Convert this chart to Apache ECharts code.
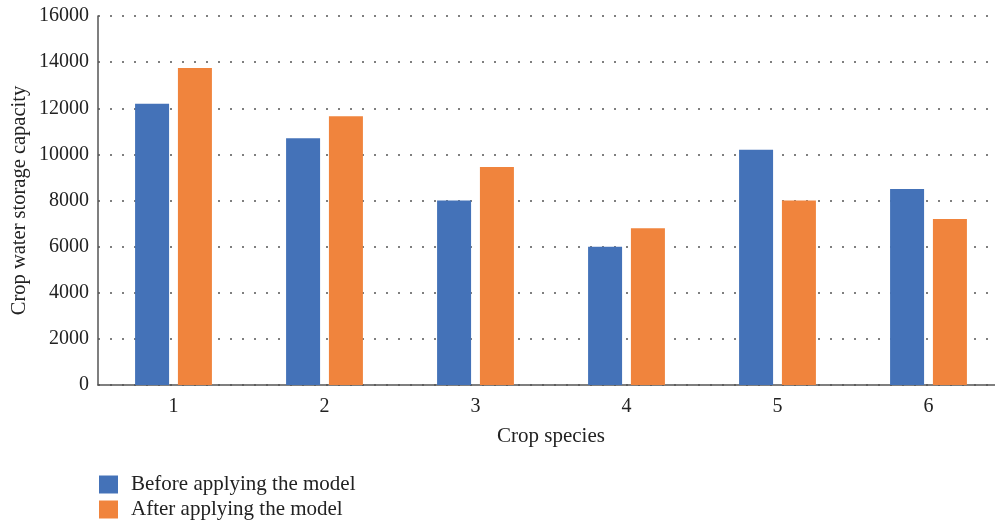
<!DOCTYPE html>
<html><head><meta charset="utf-8">
<script src="https://cdn.jsdelivr.net/npm/echarts@6/dist/echarts.min.js"></script>
<style>html,body{margin:0;padding:0;background:#fff}#c{width:995px;height:525px}</style>
</head><body><div id="c"></div>
<script>
const categories = ['1','2','3','4','5','6'];
const beforeValues = [12200, 10700, 8000, 6000, 10200, 8500];
const afterValues = [13750, 11650, 9450, 6800, 8000, 7200];
const seriesNames = ['Before applying the model', 'After applying the model'];
const yTicks = {min: 0, max: 16000, interval: 2000};

const font = 'Liberation Serif';
const chart = echarts.init(document.getElementById('c'));
chart.setOption({
  animation: false,
  textStyle: {fontFamily: font},
  grid: {left: 98, right: -9, top: 16, bottom: 140, outerBoundsMode: 'none', containLabel: false},
  legend: {
    orient: 'vertical', left: 99, top: 474, padding: 0, itemWidth: 19, itemHeight: 18, itemGap: 4,
    height: 60,
    icon: 'rect',
    textStyle: {fontFamily: font, fontSize: 21, color: '#222', padding: [0,0,0,8], lineHeight: 18},
    data: seriesNames
  },
  xAxis: {
    type: 'category', data: categories,
    name: 'Crop species', nameLocation: 'middle', nameGap: 41,
    nameTextStyle: {fontFamily: font, fontSize: 21, color: '#222'},
    axisLine: {lineStyle: {color: '#555', width: 1.5}},
    axisTick: {show: false},
    axisLabel: {fontFamily: font, fontSize: 20, color: '#222', margin: 12}
  },
  yAxis: {
    type: 'value', min: yTicks.min, max: yTicks.max, interval: yTicks.interval,
    name: 'Crop water storage capacity', nameLocation: 'middle', nameGap: 68, nameMoveOverlap: false,
    nameTextStyle: {fontFamily: font, fontSize: 20.5, color: '#222'},
    axisLine: {show: true, lineStyle: {color: '#555', width: 1.5}},
    axisTick: {show: false},
    axisLabel: {fontFamily: font, fontSize: 20, color: '#222', margin: 9, formatter: v => String(v)},
    splitLine: {lineStyle: {color: '#555', width: 1.5, type: [2, 10]}}
  },
  series: [
    {name: seriesNames[0], type: 'bar', data: beforeValues, barWidth: 34, barGap: '26%', itemStyle: {color: '#4472b8'}},
    {name: seriesNames[1], type: 'bar', data: afterValues, barWidth: 34, itemStyle: {color: '#f0843d'}}
  ]
});
</script></body></html>
